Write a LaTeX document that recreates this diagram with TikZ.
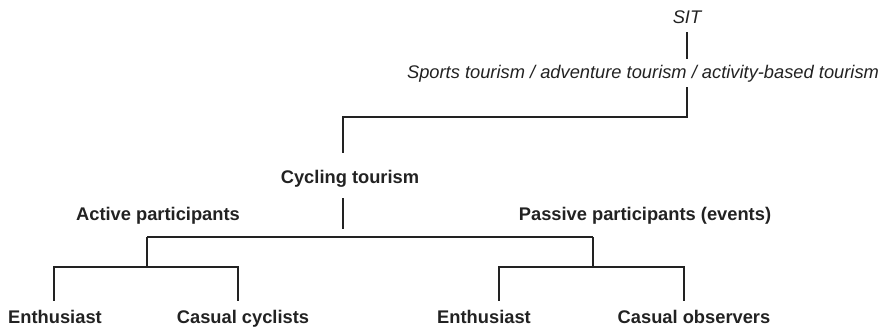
\documentclass[tikz,border=0pt]{standalone}
\usepackage{fontspec}
\setmainfont{Liberation Sans}
\usepackage{xcolor}
\usepackage{tikz}
\usetikzlibrary{positioning}
\definecolor{ink}{HTML}{222222}
\tikzset{
  lbl/.style={anchor=base, text=ink, inner xsep=0pt, inner ysep=5.5pt,
    text height=13pt, text depth=3.5pt, font=\fontsize{18.3}{21}\selectfont},
  ital/.style={lbl, font=\fontsize{18.3}{21}\selectfont\itshape},
  bold/.style={lbl, font=\fontsize{18.3}{21}\selectfont\bfseries},
  leaf/.style={bold, inner ysep=9pt},
  tree/.style={draw=ink, line width=2.8pt}
}

\begin{document}
\begin{tikzpicture}[x=1pt, y=-1pt]
\useasboundingbox (0,0) rectangle (885,330);

\node[ital] (sit) at (687,23) {SIT};
\node[ital] (sports) at (643,78) {Sports tourism / adventure tourism / activity-based tourism};
\node[bold, text height=15pt, text depth=0pt, inner ysep=15pt] (cyc) at (350,183) {Cycling tourism};
\node[bold] (active) at (158,220) {Active participants};
\node[bold] (passive) at (645,220) {Passive participants (events)};
\node[leaf] (enthA) at (55,323) {Enthusiast};
\node[leaf] (casualC) at (243,323) {Casual cyclists};
\node[leaf] (enthP) at (484,323) {Enthusiast};
\node[leaf] (casualO) at (694,323) {Casual observers};

\coordinate (cT) at (343,117);
\coordinate (cS) at (343,229);
\coordinate (hL) at (147,237);
\coordinate (hR) at (593,237);
\coordinate (aL) at (54,267);
\coordinate (aR) at (238,267);
\coordinate (pL) at (499,267);
\coordinate (pR) at (684,267);

\draw[tree] (sit.south) -- (sit.south |- sports.north);
\draw[tree] (sit.south |- sports.south) |- (cT) -- (cyc.north -| cT);
\draw[tree] (cyc.south -| cS) -- (cS);
\draw[tree] (hL) -- (hR);
\draw[tree] (hL) -- (hL |- aL);
\draw[tree] (hR) -- (hR |- pL);
\draw[tree] (enthA.north -| aL) -- (aL) -- (aR) -- (casualC.north -| aR);
\draw[tree] (enthP.north -| pL) -- (pL) -- (pR) -- (casualO.north -| pR);
\end{tikzpicture}
\end{document}
